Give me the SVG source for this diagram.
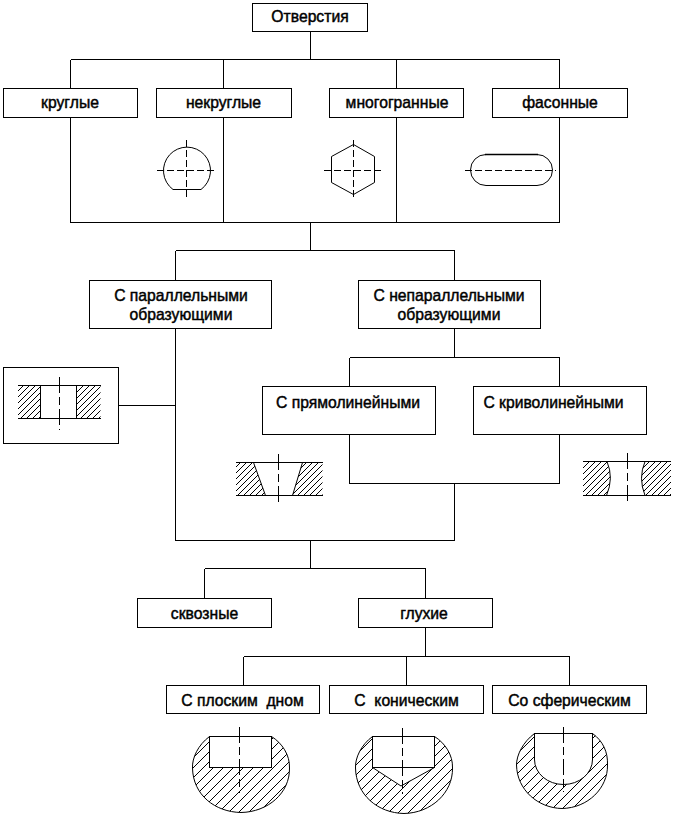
<svg xmlns="http://www.w3.org/2000/svg" width="676" height="825" viewBox="0 0 676 825">
<style>
text{font-family:"Liberation Sans",Arial,sans-serif;font-size:15.7px;fill:#000;stroke:#000;stroke-width:.45px;text-anchor:middle;white-space:pre}
.b{fill:#fff;stroke:#000;stroke-width:1;shape-rendering:crispEdges}
.c{fill:none;stroke:#000;stroke-width:1;shape-rendering:crispEdges}
.o{fill:none;stroke:#000;stroke-width:1}
.d{fill:none;stroke:#000;stroke-width:1;stroke-dasharray:7 3;shape-rendering:crispEdges}
.l{fill:none;stroke:#000;stroke-width:1;stroke-dasharray:16 4 8 4;shape-rendering:crispEdges}
.h1{fill:url(#h1);stroke:none}
.h2{fill:url(#h2);stroke:none}
</style>
<defs>
<pattern id="h1" width="6" height="6" patternUnits="userSpaceOnUse"><path d="M0 0h1v1h-1zM1 5h1v1h-1zM2 4h1v1h-1zM3 3h1v1h-1zM4 2h1v1h-1zM5 1h1v1h-1z" fill="#000" shape-rendering="crispEdges"/></pattern>
<pattern id="h2" width="10" height="10" patternUnits="userSpaceOnUse"><path d="M0 0h1v1h-1zM1 9h1v1h-1zM2 8h1v1h-1zM3 7h1v1h-1zM4 6h1v1h-1zM5 5h1v1h-1zM6 4h1v1h-1zM7 3h1v1h-1zM8 2h1v1h-1zM9 1h1v1h-1z" fill="#000" shape-rendering="crispEdges"/></pattern>
</defs>
<rect width="676" height="825" fill="#fff"/>
<g id="connectors">
<path class="c" d="M310.5 31V59.5M70.5 59.5H559.5M70.5 59.5V222.5H559.5V59.5M223.5 59.5V222.5M396.5 59.5V222.5M310.5 222.5V250.5M175.5 250.5H454.5M175.5 250.5V540.5H454.5V483.5M454.5 250.5V357.5M349.5 357.5H559.5M349.5 357.5V483.5H559.5V357.5M118 405.5H175.5M310.5 540.5V568.5M204.5 568.5H425.5M204.5 568.5V598M425.5 568.5V656.5M243.5 656.5H569.5M243.5 656.5V685M406.5 656.5V685M569.5 656.5V685"/>
</g>
<g id="n-otv"><rect class="b" x="252.5" y="3.5" width="115" height="28"/><text x="310" y="22">Отверстия</text></g>
<g id="n-krug"><rect class="b" x="3.5" y="88.5" width="134" height="29"/><text x="70" y="108">круглые</text></g>
<g id="n-nekrug"><rect class="b" x="156.5" y="88.5" width="135" height="29"/><text x="223.5" y="108">некруглые</text></g>
<g id="n-mnog"><rect class="b" x="329.5" y="88.5" width="134" height="29"/><text x="397" y="108">многогранные</text></g>
<g id="n-fas"><rect class="b" x="492.5" y="88.5" width="135" height="29"/><text x="560" y="108">фасонные</text></g>
<g id="n-par"><rect class="b" x="89.5" y="280.5" width="182" height="48"/><text x="181" y="301">С параллельными</text><text x="181" y="320">образующими</text></g>
<g id="n-nepar"><rect class="b" x="358.5" y="280.5" width="182" height="48"/><text x="449" y="301">С непараллельными</text><text x="449" y="320">образующими</text></g>
<g id="n-pryam"><rect class="b" x="262.5" y="386.5" width="173" height="48"/><text x="348" y="407.500">С прямолинейными</text></g>
<g id="n-kriv"><rect class="b" x="473.500" y="386.5" width="173" height="48"/><text x="553.5" y="407.5">С криволинейными</text></g>
<g id="n-skv"><rect class="b" x="137.5" y="598.5" width="134" height="29"/><text x="204.500" y="618.5">сквозные</text></g>
<g id="n-gluh"><rect class="b" x="358.5" y="598.5" width="134" height="29"/><text x="424" y="618.5">глухие</text></g>
<g id="n-plosk"><rect class="b" x="166.5" y="685.5" width="153" height="28"/><text x="242.5" y="706">С плоским  дном</text></g>
<g id="n-kon"><rect class="b" x="329.5" y="685.5" width="154" height="28"/><text x="406.5" y="706">С  коническим</text></g>
<g id="n-sfer"><rect class="b" x="492.5" y="685.5" width="154" height="28"/><text x="569.5" y="706">Со сферическим</text></g>

<g id="icon-circle">
<path class="o" d="M173 189.500A23.500 23.500 0 1 1 201 189.500Z"/>
<path class="d" d="M157 170.500H217M186.500 140V199"/>
</g>
<g id="icon-hex">
<path class="o" d="M353.500 144.500L374.500 156.500V182.500L353.500 194.500L331.500 182.500V156.500Z"/>
<path class="d" d="M324 170.500H383M353.500 140V199"/>
</g>
<g id="icon-slot">
<rect class="o" x="470.500" y="154.500" width="82" height="31" rx="15.500"/>
<path d="M485 154.500H538" stroke="#000" stroke-width="1.500"/>
<path class="d" d="M465 170.500H556"/>
</g>
<g id="icon-par">
<rect class="b" x="3.500" y="367.500" width="115" height="76"/>
<rect class="h1" x="18" y="385" width="22.500" height="34"/>
<rect class="h1" x="76.500" y="385" width="24" height="34"/>
<path class="c" d="M18 385.500H101M18 418.500H101M40.500 385V419M76.500 385V419"/>
<path class="l" d="M59.500 377V430"/>
</g>
<g id="icon-pryam">
<path class="h1" d="M236 462.500H253.500L265.500 495.500H236ZM302.500 462.500H322.500L322.500 495.500H292.500Z"/>
<path class="c" d="M235.500 462.500H322.500M235.500 495.500H322.500"/>
<path class="o" d="M253.500 462.500L265.500 495.500M302.500 462.500L292.500 495.500"/>
<path class="l" d="M278.500 454V504"/>
</g>
<g id="icon-kriv">
<path class="h1" d="M583 461.500H607Q614 478 606.500 495.500H583ZM645 461.500H671V495.500H645Q638 478 645 461.500Z"/>
<path class="c" d="M583 461.500H671M583 495.500H671"/>
<path class="o" d="M607 461.500Q614 478 606.500 495.500M645 461.500Q638 478 645 495.500" stroke-width="1.500"/>
<path class="l" d="M627.500 453V504"/>
</g>
<g id="icon-plosk">
<path class="h2" d="M209.500 736.500C198 745 192 758 192.500 768C193 795 215 812 241 812.500C268 812 290 793 289.500 768C290 755 282 743 271.500 736.500V767.500H209.500Z"/>
<path class="o" d="M209.500 736.500C198 745 192 758 192.500 768C193 795 215 812 241 812.500C268 812 290 793 289.500 768C290 755 282 743 271.500 736.500"/>
<rect class="c" x="209.500" y="736.500" width="62" height="31"/>
<path class="l" d="M239.500 727V793"/>
</g>
<g id="icon-kon">
<path class="h2" d="M372.500 736.500C361 745 355 758 355.500 768C356 795 378 813 404 813.500C431 813 453 793 452.500 768C453 755 445 743 434.500 736.500V767.500L401 786L372.500 767.500Z"/>
<path class="o" d="M372.500 736.500C361 745 355 758 355.500 768C356 795 378 813 404 813.500C431 813 453 793 452.500 768C453 755 445 743 434.500 736.500M372.500 767.500L401 786L434.500 767.500"/>
<path class="c" d="M372.500 767.500V736.500H434.500V767.500H372.500"/>
<path class="l" d="M402.500 728V794"/>
</g>
<g id="icon-sfer">
<path class="h2" d="M534.500 733.500C523 742 516.500 755 516.500 765C517 790 538 808 562 808.500C588 808 608 788 607.500 765C608 752 603 741 592.500 733.500V759.500A29 25 0 0 1 534.500 759.500Z"/>
<path class="o" d="M534.500 733.500C523 742 516.500 755 516.500 765C517 790 538 808 562 808.500C588 808 608 788 607.500 765C608 752 603 741 592.500 733.500M534.500 759.500A29 25 0 0 0 592.500 759.500"/>
<path class="c" d="M534.500 759.500V733.500H592.500V759.500"/>
<path class="l" d="M563.500 727V792"/>
</g>
</svg>
